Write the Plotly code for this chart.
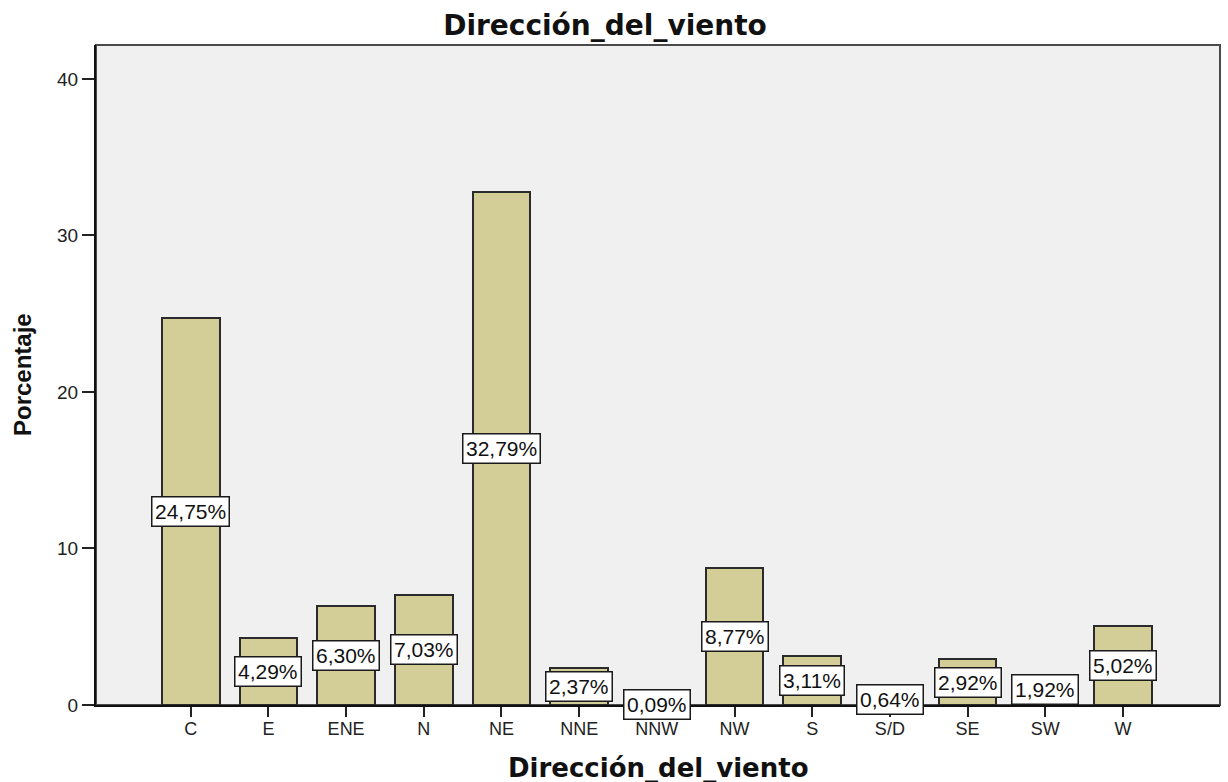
import plotly.graph_objects as go

# Wind direction frequency (percentage of observations)
directions = ["C", "E", "ENE", "N", "NE", "NNE", "NNW", "NW", "S", "S/D", "SE", "SW", "W"]
percentages = [24.75, 4.29, 6.30, 7.03, 32.79, 2.37, 0.09, 8.77, 3.11, 0.64, 2.92, 1.92, 5.02]
y_ticks = [0, 10, 20, 30, 40]

BAR_FILL = "#D3CE97"
BAR_EDGE = "#2b2b2b"
PLOT_BG = "#F0F0F0"
LABEL_FONT = "Liberation Sans, Arial, sans-serif"
TITLE_FONT = "DejaVu Sans, Verdana, sans-serif"

fig = go.Figure()
fig.add_trace(go.Bar(
    x=directions,
    y=percentages,
    width=0.74,
    marker=dict(color=BAR_FILL, line=dict(color=BAR_EDGE, width=2)),
    hoverinfo="x+y",
    showlegend=False,
))

# Value boxes centred at half the bar height
for d, v in zip(directions, percentages):
    fig.add_annotation(
        x=d, y=v / 2, xref="x", yref="y",
        text=f"{v:.2f}%".replace(".", ","),
        showarrow=False,
        font=dict(family=LABEL_FONT, size=21, color="#111"),
        bgcolor="white", bordercolor="#1a1a1a", borderwidth=1.5, borderpad=2.5,
        xanchor="center", yanchor="middle",
    )

# Axis titles
fig.add_annotation(
    x=0.5, y=0, xref="paper", yref="paper", yshift=-63,
    text="<b>Dirección_del_viento</b>", showarrow=False,
    font=dict(family=TITLE_FONT, size=26, color="#111"),
    xanchor="center", yanchor="middle",
)
fig.add_annotation(
    x=0, y=0.5, xref="paper", yref="paper", xshift=-74,
    text="<b>Porcentaje</b>", showarrow=False, textangle=-90,
    font=dict(family=LABEL_FONT, size=24, color="#111"),
    xanchor="center", yanchor="middle",
)

# Frame around the plotting area
fig.add_shape(type="rect", xref="paper", yref="paper", x0=0, y0=0, x1=1, y1=1,
              line=dict(color="#4a4a4a", width=2), layer="below")

fig.update_layout(
    width=1228, height=782,
    margin=dict(l=96, r=8, t=45, b=77),
    paper_bgcolor="white",
    plot_bgcolor=PLOT_BG,
    title=dict(
        text="<b>Dirección_del_viento</b>",
        x=605 / 1228, xref="container", xanchor="center",
        y=1 - 25 / 782, yref="container", yanchor="middle",
        font=dict(family=TITLE_FONT, size=28, color="#111"),
    ),
    bargap=0,
    xaxis=dict(
        type="category",
        range=[-1.22, 13.25],
        showgrid=False, zeroline=False,
        showline=True, linecolor="#111", linewidth=2,
        ticks="outside", ticklen=10, tickwidth=2, tickcolor="#222",
        ticklabelstandoff=-4,
        tickfont=dict(family=LABEL_FONT, size=18, color="#222"),
        fixedrange=True,
    ),
    yaxis=dict(
        range=[0, 42.17],
        tickvals=y_ticks,
        showgrid=False, zeroline=False,
        showline=True, linecolor="#111", linewidth=2,
        ticks="outside", ticklen=12, tickwidth=2, tickcolor="#222",
        tickfont=dict(family=LABEL_FONT, size=19, color="#222"),
        fixedrange=True,
    ),
)

fig.write_html("out.html")
